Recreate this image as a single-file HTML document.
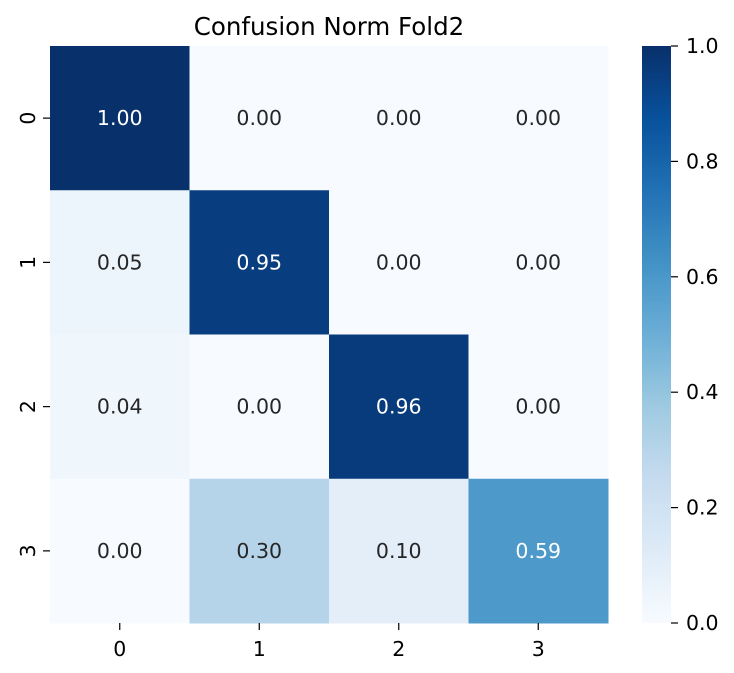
<!DOCTYPE html>
<html><head><meta charset="utf-8"><style>
body{margin:0;background:#fff}
svg{display:block;font-family:"DejaVu Sans","Liberation Sans",sans-serif}
</style></head><body>
<svg id="chart" width="734" height="673">
<defs><linearGradient id="cbg" x1="0" y1="1" x2="0" y2="0">
<stop offset="0" stop-color="#f7fbff"/><stop offset="0.125" stop-color="#deebf7"/><stop offset="0.25" stop-color="#c6dbef"/><stop offset="0.375" stop-color="#9ecae1"/><stop offset="0.5" stop-color="#6baed6"/><stop offset="0.625" stop-color="#4292c6"/><stop offset="0.75" stop-color="#2171b5"/><stop offset="0.875" stop-color="#08519c"/><stop offset="1" stop-color="#08306b"/>
</linearGradient></defs>
<text x="329" y="35" text-anchor="middle" font-size="24.5" fill="#000">Confusion Norm Fold2</text>
<g id="cells"></g>
<g id="axes"></g>
<rect x="642" y="46" width="29" height="577" fill="url(#cbg)"/>
<g id="cbticks"></g>
</svg>
<script>
const rowLabels=["0","1","2","3"];
const colLabels=["0","1","2","3"];
const values=[[1.00,0.00,0.00,0.00],[0.05,0.95,0.00,0.00],[0.04,0.00,0.96,0.00],[0.00,0.30,0.10,0.59]];
const cbTicks=[0.0,0.2,0.4,0.6,0.8,1.0];
const L=50,T=46,W=558,H=577,cw=W/4,ch=H/4;
const FS=20.5;
const stops=["#f7fbff","#deebf7","#c6dbef","#9ecae1","#6baed6","#4292c6","#2171b5","#08519c","#08306b"].map(h=>[1,3,5].map(i=>parseInt(h.substr(i,2),16)));
function blues(v){v=Math.max(0,Math.min(1,v));const p=v*8,i=Math.min(7,Math.floor(p)),f=p-i;const c=stops[i].map((a,k)=>Math.round(a+(stops[i+1][k]-a)*f));return `rgb(${c})`;}
const ns="http://www.w3.org/2000/svg";
function mk(t,a,txt){const e=document.createElementNS(ns,t);for(const k in a)e.setAttribute(k,a[k]);if(txt!=null)e.textContent=txt;return e;}
const cells=document.getElementById('cells'),axes=document.getElementById('axes'),cb=document.getElementById('cbticks');
const xs=j=>L+j*cw, ys=i=>T+i*ch, cy=v=>T+H-v*H;
values.forEach((row,i)=>row.forEach((v,j)=>{
const r=mk('rect',{x:xs(j),y:ys(i),width:cw+0.5,height:ch+0.5,fill:blues(v)});


cells.appendChild(r);
const t=mk('text',{x:xs(j)+cw/2,y:ys(i)+ch/2+7,'text-anchor':'middle','font-size':FS,fill:v>0.5?'#fff':'#262626'},v.toFixed(2));


cells.appendChild(t);
}));
rowLabels.forEach((l,i)=>{
const y=ys(i)+ch/2;
axes.appendChild(mk('line',{x1:L-7,x2:L,y1:y,y2:y,stroke:'#000','stroke-width':1.2}));
const t=mk('text',{x:0,y:0,transform:`translate(${L-15},${y}) rotate(-90)`,'text-anchor':'middle','font-size':FS,fill:'#000'},l);


axes.appendChild(t);
});
colLabels.forEach((l,j)=>{
const x=xs(j)+cw/2;
axes.appendChild(mk('line',{x1:x,x2:x,y1:T+H,y2:T+H+7,stroke:'#000','stroke-width':1.2}));
const t=mk('text',{x:x,y:T+H+33,'text-anchor':'middle','font-size':FS,fill:'#000'},l);


axes.appendChild(t);
});
cbTicks.forEach(v=>{
const y=cy(v);
cb.appendChild(mk('line',{x1:671,x2:678,y1:y,y2:y,stroke:'#000','stroke-width':1.2}));
const t=mk('text',{x:686,y:y+7,'font-size':FS,fill:'#000'},v.toFixed(1));


cb.appendChild(t);
});
</script>
</body></html>
